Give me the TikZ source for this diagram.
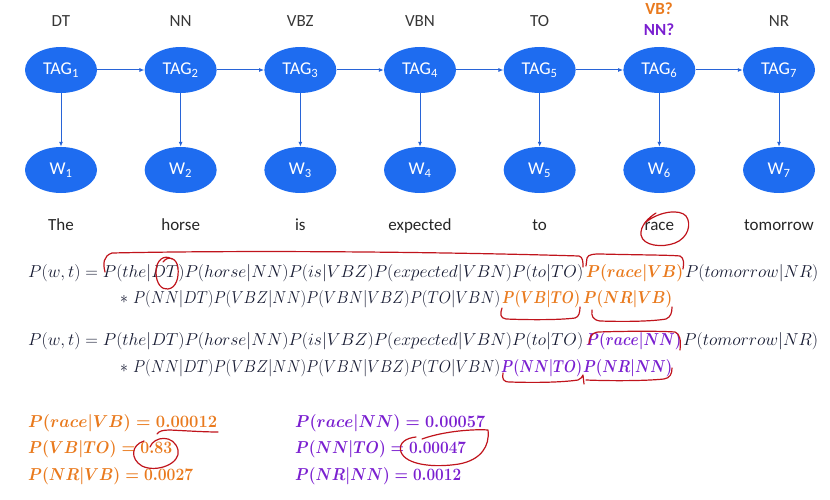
\documentclass[tikz,border=0pt]{standalone}
\usepackage{amsmath}
\usepackage{graphicx}
\usepackage{fontspec}
\newfontfamily\labfont{Carlito}
\usetikzlibrary{arrows.meta,shapes.geometric}
\definecolor{blueF}{RGB}{30,108,240}
\definecolor{arrC}{RGB}{40,100,215}
\definecolor{orangeC}{RGB}{233,122,30}
\definecolor{purpleC}{RGB}{122,31,208}
\definecolor{inkred}{RGB}{192,20,28}
\definecolor{eqC}{RGB}{22,26,50}
\definecolor{labC}{RGB}{55,55,55}
\newcommand\eqpc[2]{\resizebox{#1}{\height}{\fontsize{18}{20}\selectfont$#2$}}
\newcommand\eqpcb[2]{\resizebox{#1}{\height}{\fontsize{18}{20}\selectfont\boldmath$#2$}}
\begin{document}
\begin{tikzpicture}[x=1pt,y=-1pt,
  tagnode/.style={ellipse,fill=blueF,minimum width=72pt,minimum height=46pt,inner sep=0pt,text=white,font=\labfont\fontsize{18}{18}\selectfont},
  arr/.style={draw=arrC,line width=1pt,-{Latex[length=5pt,width=4pt]}},
  toplab/.style={anchor=base,inner sep=0pt,text=labC,font=\labfont\fontsize{17}{17}\selectfont},
  wordlab/.style={anchor=base,inner sep=0pt,text=black!85,font=\labfont\fontsize{17}{17}\selectfont},
  qlab/.style={anchor=base,inner sep=0pt,font=\labfont\bfseries\fontsize{17}{17}\selectfont},
  eq/.style={anchor=base west,inner sep=0pt,text=eqC},
  ink/.style={draw=inkred,line width=1.2pt,line cap=round,line join=round}]
\useasboundingbox (0,0) rectangle (830,500);
% graph
\foreach \i/\tlab/\wrd in {1/DT/The,2/NN/horse,3/VBZ/is,4/VBN/expected,5/TO/to,6/{}/race,7/NR/tomorrow}{
  \pgfmathsetmacro{\cx}{61+119.67*(\i-1)}
  \node[tagnode] (t\i) at (\cx,70) {TAG\textsubscript{\i}};
  \node[tagnode] (w\i) at (\cx,170) {W\textsubscript{\i}};
  \node[toplab] (l\i) at (\cx,27) {\tlab};
  \node[wordlab] (x\i) at (\cx,230) {\wrd};
  \draw[arr] (t\i) -- (w\i);
}
\foreach \i [evaluate=\i as \j using int(\i+1)] in {1,...,6}{
  \draw[arr] (t\i) -- (t\j);
}
\node[qlab,text=orangeC] (qvb) at (659,15) {VB?};
\node[qlab,text=purpleC] (qnn) at (659,36) {NN?};
% equations
\node[eq] (e1a) at (28,277) {\eqpc{555pt}{P(w,t) = P(the|DT)P(horse|NN)P(is|VBZ)P(expected|VBN)P(to|TO)}};
\node[eq,text=orangeC] (e1b) at (586,277) {\eqpcb{97pt}{P(race|VB)}};
\node[eq] (e1c) at (685,277) {\eqpc{133pt}{P(tomorrow|NR)}};
\node[eq] (e2a) at (120,303) {\eqpc{380pt}{\ast\ P(NN|DT)P(VBZ|NN)P(VBN|VBZ)P(TO|VBN)}};
\node[eq,text=orangeC] (e2b) at (502,303) {\eqpcb{78pt}{P(VB|TO)}};
\node[eq,text=orangeC] (e2c) at (583,303) {\eqpcb{89pt}{P(NR|VB)}};
\node[eq] (e3a) at (28,345) {\eqpc{555pt}{P(w,t) = P(the|DT)P(horse|NN)P(is|VBZ)P(expected|VBN)P(to|TO)}};
\node[eq,text=purpleC] (e3b) at (586,345) {\eqpcb{95pt}{P(race|NN)}};
\node[eq] (e3c) at (683,345) {\eqpc{135pt}{P(tomorrow|NR)}};
\node[eq] (e4a) at (120,372) {\eqpc{380pt}{\ast\ P(NN|DT)P(VBZ|NN)P(VBN|VBZ)P(TO|VBN)}};
\node[eq,text=purpleC] (e4b) at (501,372) {\eqpcb{81pt}{P(NN|TO)}};
\node[eq,text=purpleC] (e4c) at (583,372) {\eqpcb{89pt}{P(NR|NN)}};
% values
\node[eq,text=orangeC] (v1) at (28,427) {\eqpcb{189pt}{P(race|VB) = 0.00012}};
\node[eq,text=orangeC] (v2) at (28,453) {\eqpcb{144pt}{P(VB|TO) = 0.83}};
\node[eq,text=orangeC] (v3) at (28,480) {\eqpcb{165pt}{P(NR|VB) = 0.0027}};
\node[eq,text=purpleC] (u1) at (295,427) {\eqpcb{190pt}{P(race|NN) = 0.00057}};
\node[eq,text=purpleC] (u2) at (295,453) {\eqpcb{171pt}{P(NN|TO) = 0.00047}};
\node[eq,text=purpleC] (u3) at (295,480) {\eqpcb{166pt}{P(NR|NN) = 0.0012}};
% red ink annotations
\draw[ink] (105,272) .. controls (103,264) and (103,256) .. (112,253)
  .. controls (250,250) and (450,252) .. (579,256) .. controls (583,257) and (583,262) .. (583,267);
\draw[ink] (586,266) -- (587,258) .. controls (588,254) and (595,254) .. (600,254)
  .. controls (640,255) and (670,255) .. (680,256) .. controls (684,258) and (684,263) .. (683,269);
\draw[ink] (172,259) .. controls (164,254) and (156,260) .. (156,272)
  .. controls (156,284) and (162,290) .. (168,289) .. controls (176,288) and (179,278) .. (178,268)
  .. controls (177,258) and (168,255) .. (163,262);
\draw[ink] (656,213) .. controls (648,218) and (640,226) .. (641,235)
  .. controls (643,246) and (662,248) .. (675,243) .. controls (688,238) and (692,224) .. (686,216)
  .. controls (680,209) and (660,211) .. (646,222);
\draw[ink] (502,308) .. controls (500,314) and (500,318) .. (506,319)
  .. controls (530,320) and (560,320) .. (575,318) .. controls (579,317) and (580,312) .. (580,307);
\draw[ink] (592,310) .. controls (591,316) and (593,320) .. (600,321)
  .. controls (630,322) and (655,321) .. (666,319) .. controls (671,317) and (672,312) .. (672,307);
\draw[ink] (589,344) .. controls (589,338) and (591,333) .. (598,332)
  .. controls (630,331) and (660,331) .. (675,332) .. controls (680,334) and (681,340) .. (680,350);
\draw[ink] (503,373) .. controls (502,379) and (503,382) .. (510,382)
  .. controls (540,383) and (565,382) .. (578,380) .. controls (581,379) and (582,377) .. (583,375)
  -- (584,384);
\draw[ink] (586,380) .. controls (610,381) and (645,381) .. (664,379)
  .. controls (670,378) and (672,374) .. (672,368);
\draw[ink] (157,434) .. controls (159,431) and (163,430) .. (170,430)
  .. controls (190,431) and (205,432) .. (218,432);
\draw[ink] (150,447) .. controls (154,436) and (174,434) .. (178,450)
  .. controls (181,464) and (156,473) .. (142,466) .. controls (130,459) and (131,445) .. (144,441);
\draw[ink] (422,439) .. controls (444,431) and (474,429) .. (488,430)
  .. controls (490,446) and (481,460) .. (459,464) .. controls (434,468) and (406,465) .. (401,452)
  .. controls (398,443) and (406,438) .. (416,437);
\end{tikzpicture}
\end{document}
